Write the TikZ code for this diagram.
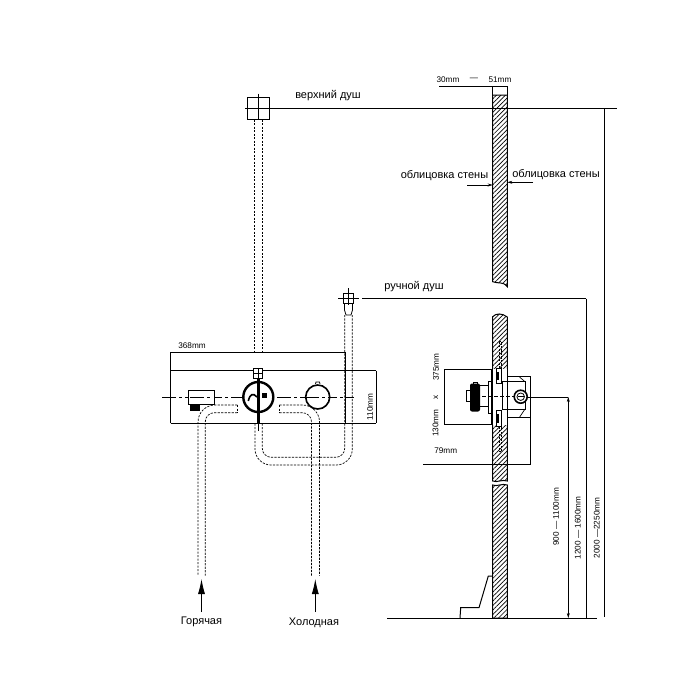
\documentclass[tikz,border=0pt]{standalone}
\usepackage{fontspec}
\setmainfont{Liberation Sans}
\usetikzlibrary{arrows.meta,patterns.meta}
\tikzset{
    pipe/.style={line width=0.7pt, dash pattern=on 2.2pt off 1.3pt},
    centre/.style={line width=0.7pt, dash pattern=on 14pt off 3pt on 3pt off 3pt},
    wall/.style={draw, line width=1pt, pattern={Lines[angle=45,distance=3.2pt,line width=0.7pt]}},
    labeltext/.style={font=\fontsize{11}{13}\selectfont, inner sep=0pt},
    sizetext/.style={font=\fontsize{8.2}{10}\selectfont, inner sep=0pt},
    sizeup/.style={sizetext, rotate=90},
    supply/.style={-{Latex[length=15pt,width=7pt]}, line width=0.8pt},
    tick/.style={-{Stealth[length=5pt,width=3pt]}, line width=0.7pt},
}
\begin{document}
\begin{tikzpicture}[x=1pt, y=-1pt, line width=1pt, line join=miter]
    \useasboundingbox (0,0) rectangle (691,673);
    % overhead shower
    \node[draw, minimum width=22pt, minimum height=22pt, inner sep=0pt] (topbox) at (258.3,108.5) {};
    \draw[line width=0.7pt] (258.3,93.5) -- (258.3,119);
    \draw (245,108.3) -- (617,108.3);
    \node[labeltext] (toplabel) at (328,96) {верхний душ};
    \draw[pipe] (254.5,119.5) -- (254.5,352);
    \draw[pipe] (262.3,119.5) -- (262.3,352);
    % hand shower
    \node[draw, minimum width=10pt, minimum height=10pt, inner sep=0pt] (handbox) at (348.5,298.5) {};
    \draw[line width=0.7pt] (348.5,288) -- (348.5,305);
    \draw[line width=0.7pt] (338,298.5) -- (359,298.5);
    \draw (362,298.7) -- (586,298.7);
    \draw[line width=0.8pt] (344.5,303.5) -- (344.5,310) -- (346,315) -- (351,315) -- (352.5,310) -- (352.5,303.5);
    \node[labeltext] (handlabel) at (414,287) {ручной душ};
    % panel
    \draw (170.7,423.3) -- (170.7,352.7) -- (345,352.7) -- (345,423.3);
    \draw (170.7,370.7) -- (376,370.7);
    \draw (170.7,423.3) -- (376,423.3);
    \draw[line width=0.7pt] (376,370.7) -- (376,423.3);
    \node[sizetext] (panelwidth) at (192,346) {368mm};
    \node[sizeup] (panelheight) at (370,407) {110mm};
    \draw[centre] (162,397) -- (354,397);
    % spout
    \node[draw, fill=white, minimum width=26pt, minimum height=14pt, inner sep=0pt] (spout) at (201.5,397) {};
    \draw[centre] (190,397) -- (213,397);
    \fill (189.5,404.7) rectangle (199.5,410.7);
    % mode dial
    \node[draw, fill=white, line width=0.7pt, minimum width=9.5pt, minimum height=10pt, inner sep=0pt] (dialcap) at (258,373.3) {};
    \draw[line width=0.7pt] (258,368.3) -- (258,378.3) (253.3,373.3) -- (262.7,373.3);
    \node[circle, draw, fill=white, line width=2.4pt, minimum size=30pt, inner sep=0pt] (dial) at (258.3,397) {};
    \draw[line width=2.4pt] (258.3,379) -- (258.3,423);
    \draw[line width=0.7pt] (258.3,423) -- (258.3,431);
    \draw[line width=1.6pt] (248.3,401) .. controls (250,394) and (253,392.5) .. (257,397);
    \fill (261.5,393) rectangle (267,397.5);
    % thermostat
    \draw[line width=0.8pt] (315.5,384) -- (316,382) -- (319.5,382) -- (320,384);
    \node[circle, draw, fill=white, line width=1.6pt, minimum size=24pt, inner sep=0pt] (thermo) at (317.7,397) {};
    \draw[centre] (305,397) -- (330,397);
    % hot, cold and U pipes
    \draw[pipe, rounded corners=17pt] (237.3,405) -- (198,405) -- (198,575.5);
    \draw[pipe, rounded corners=9pt] (237.3,412.7) -- (205.3,412.7) -- (205.3,575.5);
    \draw[pipe] (237.3,405) -- (237.3,412.7) (279.3,405) -- (279.3,412.7);
    \draw[pipe, rounded corners=17pt] (279.3,405) -- (319.5,405) -- (319.5,575.5);
    \draw[pipe, rounded corners=9pt] (279.3,412.7) -- (311.5,412.7) -- (311.5,575.5);
    \draw[pipe, rounded corners=16pt] (255,423.5) -- (255,465) -- (352.3,465) -- (352.3,315);
    \draw[pipe, rounded corners=9pt] (262.3,423.5) -- (262.3,457.3) -- (344.7,457.3) -- (344.7,315);
    \coordinate (hotend) at (201.5,579);
    \coordinate (coldend) at (315.3,579);
    \node[labeltext] (hotlabel) at (201.5,622) {Горячая};
    \node[labeltext] (coldlabel) at (314,623) {Холодная};
    \draw[supply] (201.5,612) -- (hotend);
    \draw[supply] (315.3,612) -- (coldend);
    % upper wall
    \path[wall] (492.7,281.7) -- (492.7,95) -- (507.3,95) -- (507.3,286.7) .. controls (503,281) and (498,284) .. (492.7,281.7) -- cycle;
    \draw[line width=0.7pt] (439.3,86.7) -- (507.3,86.7) -- (507.3,95) (492.7,86.7) -- (492.7,95);
    \node[sizetext] (minsize) at (448,80) {30mm};
    \node[sizetext] (dashsize) at (474,79) {—};
    \node[sizetext] (maxsize) at (500,80) {51mm};
    \node[labeltext] (leftface) at (444.5,175.5) {облицовка стены};
    \node[labeltext] (rightface) at (556,175) {облицовка стены};
    \draw[tick] (467,185) -- (492.7,185);
    \draw[tick] (533,182.3) -- (507.3,182.3);
    % lower wall
    \path[wall] (492.7,316.7) .. controls (496,313) and (502,313) .. (507.3,317) -- (507.3,481) .. controls (502,479) and (497,483) .. (492.7,481) -- cycle;
    \path[wall] (492.7,485) .. controls (497,487) and (502,483) .. (507.3,485) -- (507.3,618) -- (492.7,618) -- cycle;
    \fill[white] (493,369.3) rectangle (507,424.7);
    \draw[pipe] (499,341.7) rectangle (501.7,368);
    \draw[pipe] (499,426.7) rectangle (501.7,451.7);
    % mixer body
    \draw (507.3,369.3) -- (507.3,376.7) -- (530.7,376.7) -- (530.7,417.7) -- (507.3,417.7) -- (507.3,424.7);
    \draw[line width=0.7pt] (519.5,377) -- (525,381.7) (519.5,417.3) -- (525,409);
    \draw[line width=0.8pt] (502.3,381.7) -- (525,381.7) -- (525,409) -- (502.3,409);
    \draw[line width=0.8pt] (502.3,381.7) -- (502.3,409);
    \draw[fill=white, line width=0.8pt] (496.7,368.3) rectangle (501.7,383);
    \fill (496.7,372) rectangle (499,380);
    \draw[fill=white, line width=0.8pt] (496.7,410) rectangle (501.7,426.7);
    \fill (496.7,414) rectangle (499,423);
    \draw (480,385) -- (488.3,385) (480,406.7) -- (488.3,406.7);
    \draw[fill=white, line width=0.8pt] (488.3,381.7) rectangle (491.5,413);
    \draw[line width=1.8pt] (492.3,369.3) -- (492.3,424.7);
    \draw[line width=0.7pt, dash pattern=on 4pt off 2pt] (482,396.7) -- (514,396.7);
    \fill[rounded corners=2pt] (470,383.5) rectangle (480,411.5);
    \draw[line width=0.8pt, fill=white] (466,390) rectangle (470,401.7);
    \draw[line width=0.9pt] (473,384) -- (473,382) -- (477,382) -- (477,384);
    \node[circle, draw, fill=white, line width=1.6pt, minimum size=13pt, inner sep=0pt] (valve) at (520.7,396.7) {};
    \node[circle, draw, fill=white, line width=0.8pt, minimum size=7.5pt, inner sep=0pt] (valvecore) at (520.7,396.7) {};
    \draw[line width=1.2pt] (517.5,396.7) -- (524,396.7);
    % mixer sizes
    \draw[line width=0.7pt] (492,369.3) -- (444.3,369.3) -- (444.3,424) -- (492,424);
    \node[sizeup] (depthsize) at (436,367) {375mm};
    \node[sizeup] (crosssize) at (436,397) {x};
    \node[sizeup] (widthsize) at (435.5,423) {130mm};
    \node[sizetext] (bodysize) at (445.7,451) {79mm};
    \draw[line width=0.7pt] (423.3,464.7) -- (530.7,464.7) -- (530.7,417.7);
    % floor
    \draw (387,618.3) -- (596.7,618.3);
    \draw (460,618) -- (460.7,607.7) -- (479,607.7) -- (488.3,576) -- (492.7,576);
    % heights
    \draw[line width=0.7pt] (528,397) -- (568.3,397);
    \draw[tick, {Stealth[length=5pt,width=3pt]}-{Stealth[length=5pt,width=3pt]}] (568.3,397) -- (568.3,618);
    \draw[line width=0.7pt] (586,298.7) -- (586,618);
    \draw[line width=0.7pt] (604.7,108.3) -- (604.7,617);
    \node[sizeup] (lowsize) at (556,517) {900 — 1100mm};
    \node[sizeup] (midsize) at (577.7,528) {1200 — 1600mm};
    \node[sizeup] (highsize) at (596.7,528) {2000 —2250mm};
\end{tikzpicture}
\end{document}
